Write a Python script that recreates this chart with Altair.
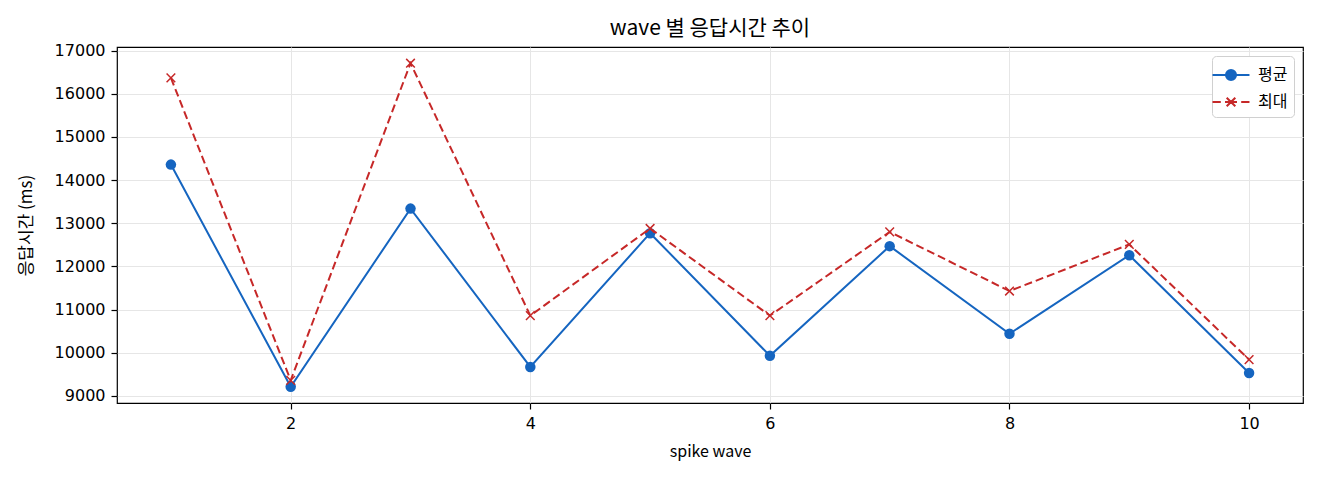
import altair as alt
import pandas as pd

# wave 별 응답시간 (ms)
waves = [1, 2, 3, 4, 5, 6, 7, 8, 9, 10]
mean_ms = [14360, 9210, 13340, 9670, 12770, 9930, 12470, 10440, 12260, 9530]
max_ms = [16370, 9360, 16710, 10860, 12880, 10860, 12800, 11430, 12510, 9840]
series_names = ["평균", "최대"]
y_ticks = [9000, 10000, 11000, 12000, 13000, 14000, 15000, 16000, 17000]
x_ticks = [2, 4, 6, 8, 10]

BLUE = "#1565c0"
RED = "#c62828"
KFONT = "Noto Sans CJK KR"
NFONT = "DejaVu Sans"

df = pd.concat([
    pd.DataFrame({"wave": waves, "ms": mean_ms, "series": series_names[0]}),
    pd.DataFrame({"wave": waves, "ms": max_ms, "series": series_names[1]}),
])

# matplotlib style 5% margins
lo, hi = min(mean_ms + max_ms), max(mean_ms + max_ms)
ypad = (hi - lo) * 0.05
xpad = (max(waves) - min(waves)) * 0.05
x_scale = alt.Scale(domain=[min(waves) - xpad, max(waves) + xpad], nice=False, zero=False)
y_scale = alt.Scale(domain=[lo - ypad, hi + ypad], nice=False, zero=False)

x_enc = alt.X("wave:Q", scale=x_scale, title="spike wave",
              axis=alt.Axis(values=x_ticks, format="d"))
y_enc = alt.Y("ms:Q", scale=y_scale, title="응답시간 (ms)",
              axis=alt.Axis(values=y_ticks, format="d"))

base = alt.Chart(df).encode(x=x_enc, y=y_enc)

X_PATH = "M-1,-1L1,1M-1,1L1,-1"

mean_line = base.transform_filter(alt.datum.series == "평균").mark_line(
    color=BLUE, strokeWidth=2)
mean_pts = base.transform_filter(alt.datum.series == "평균").mark_point(
    shape="circle", filled=True, color=BLUE, size=110, opacity=1)
max_line = base.transform_filter(alt.datum.series == "최대").mark_line(
    color=RED, strokeWidth=2, strokeDash=[8, 4])
max_pts = base.transform_filter(alt.datum.series == "최대").mark_point(
    shape=X_PATH, filled=False, color=RED, size=75, strokeWidth=1.5, opacity=1)

# legend symbols: line + marker drawn as one custom path
leg_mean = ("M-1.54,0L1.54,0M-0.42,0A0.42,0.42,0,1,0,0.42,0"
            "A0.42,0.42,0,1,0,-0.42,0Z")
leg_max = ("M-1.54,0L-0.85,0M-0.5,0L0.5,0M0.85,0L1.54,0"
           "M-0.36,-0.36L0.36,0.36M-0.36,0.36L0.36,-0.36")

leg_args = dict(title=None, symbolSize=576, symbolStrokeWidth=2, symbolFillColor=BLUE)
legend_layer = base.mark_point(filled=True, opacity=0, strokeWidth=2).encode(
    fill=alt.Fill("series:N", scale=alt.Scale(domain=series_names, range=[BLUE, RED]),
                  legend=alt.Legend(**leg_args)),
    stroke=alt.Stroke("series:N", scale=alt.Scale(domain=series_names, range=[BLUE, RED]),
                      legend=alt.Legend(**leg_args)),
    shape=alt.Shape("series:N", scale=alt.Scale(domain=series_names, range=[leg_mean, leg_max]),
                    legend=alt.Legend(**leg_args)),
)

chart = alt.layer(mean_line, mean_pts, max_line, max_pts, legend_layer).properties(
    width=1186,
    height=356,
    autosize=alt.AutoSizeParams(type="none"),
    padding={"left": 109, "top": 39, "right": 9, "bottom": 60},
    title=alt.Title("wave 별 응답시간 추이", font=KFONT, fontSize=21,
                    fontWeight="normal", color="black", offset=4),
).configure_view(
    stroke="black", strokeWidth=1.2
).configure_axis(
    domain=False,
    grid=True, gridColor="#e6e6e6", gridWidth=1,
    tickColor="black", tickSize=6, tickWidth=1.2,
    labelFont=NFONT, labelFontSize=16, labelColor="black", labelPadding=6,
    titleFont=KFONT, titleFontSize=16, titleFontWeight="normal", titleColor="black",
).configure_axisX(
    titlePadding=12,
).configure_axisY(
    titlePadding=19, titleFontSize=17,
).configure_legend(
    orient="top-right", offset=9, padding=6, rowPadding=4,
    fillColor="white", strokeColor="#d0d0d0", cornerRadius=4,
    labelFont=KFONT, labelFontSize=16, labelColor="black", labelOffset=14,
)

chart.save("out.html", embed_options={"renderer": "svg", "actions": False})
